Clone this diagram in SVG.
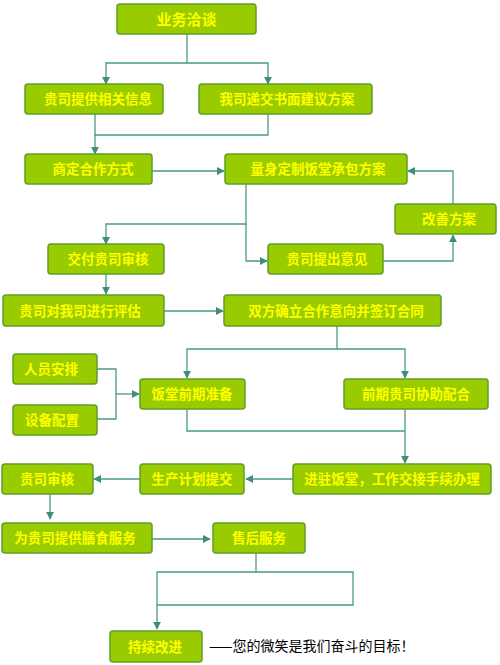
<svg xmlns="http://www.w3.org/2000/svg" width="500" height="665" viewBox="0 0 500 665">
<style>
.box rect{fill:#99cc00;stroke:#5e9e2a;stroke-width:1.5}
.box text{fill:#ffff00;font-family:"Noto Sans CJK SC","Noto Sans CJK JP",sans-serif;font-size:13.5px;text-anchor:middle;font-weight:bold}
.c{fill:none;stroke:#4a9a86;stroke-width:1.3}
.note{fill:#000;font-family:"Noto Sans CJK SC",sans-serif;font-size:14px}
</style>
<defs>
<marker id="ah" viewBox="0 0 10 10" refX="9" refY="5" markerWidth="8" markerHeight="8" markerUnits="userSpaceOnUse" orient="auto">
<path d="M0,0 L10,5 L0,10 z" fill="#3e8f78"/>
</marker>
</defs>
<g id="connectors">
<path class="c" d="M187,34 V63 H106 V84" marker-end="url(#ah)"/>
<path class="c" d="M187,63 H268 V84"  marker-end="url(#ah)"/>
<path class="c" d="M95,114 V135 H268 V114"/>
<path class="c" d="M95,135 V154" marker-end="url(#ah)"/>
<path class="c" d="M152,171 H224" marker-end="url(#ah)"/>
<path class="c" d="M453,204 V171 H408" marker-end="url(#ah)"/>
<path class="c" d="M246,184 V224 H106 V244" marker-end="url(#ah)"/>
<path class="c" d="M246,224 V261 H267" marker-end="url(#ah)"/>
<path class="c" d="M383,261 H453 V235" marker-end="url(#ah)"/>
<path class="c" d="M106,274 V294" marker-end="url(#ah)"/>
<path class="c" d="M164,311 H223" marker-end="url(#ah)"/>
<path class="c" d="M337,326 V349 H187 V378" marker-end="url(#ah)"/>
<path class="c" d="M337,349 H405 V378" marker-end="url(#ah)"/>
<path class="c" d="M97,369 H116 V419 H97"/>
<path class="c" d="M116,394 H139" marker-end="url(#ah)"/>
<path class="c" d="M187,409 V431 H405"/>
<path class="c" d="M405,409 V463" marker-end="url(#ah)"/>
<path class="c" d="M293,479 H246" marker-end="url(#ah)"/>
<path class="c" d="M140,479 H94" marker-end="url(#ah)"/>
<path class="c" d="M50,494 V519" marker-end="url(#ah)"/>
<path class="c" d="M152,539 H210" marker-end="url(#ah)"/>
<path class="c" d="M256,553 V572 H353 V605 H157"/>
<path class="c" d="M256,572 H157 V629" marker-end="url(#ah)"/>
</g>
<g id="n1" class="box"><rect x="117" y="4" width="139" height="30" rx="3"/><text x="186.5" y="24.5" style="font-size:15px">业务洽谈</text></g>
<g id="n2" class="box"><rect x="25" y="84" width="138" height="30" rx="3"/><text x="98" y="104">贵司提供相关信息</text></g>
<g id="n3" class="box"><rect x="199" y="84" width="173" height="30" rx="3"/><text x="287" y="104">我司递交书面建议方案</text></g>
<g id="n4" class="box"><rect x="25" y="154" width="127" height="30" rx="3"/><text x="93" y="174">商定合作方式</text></g>
<g id="n5" class="box"><rect x="225" y="154" width="182" height="30" rx="3"/><text x="318" y="174">量身定制饭堂承包方案</text></g>
<g id="n6" class="box"><rect x="395" y="204" width="101" height="30" rx="3"/><text x="449" y="224">改善方案</text></g>
<g id="n7" class="box"><rect x="48" y="244" width="116" height="30" rx="3"/><text x="108" y="264">交付贵司审核</text></g>
<g id="n8" class="box"><rect x="268" y="244" width="115" height="30" rx="3"/><text x="327" y="264">贵司提出意见</text></g>
<g id="n9" class="box"><rect x="3" y="295" width="161" height="31" rx="3"/><text x="80" y="315.5">贵司对我司进行评估</text></g>
<g id="n10" class="box"><rect x="224" y="295" width="217" height="31" rx="3"/><text x="336" y="315.5">双方确立合作意向并签订合同</text></g>
<g id="n11" class="box"><rect x="13" y="354" width="84" height="30" rx="3"/><text x="51" y="374">人员安排</text></g>
<g id="n12" class="box"><rect x="13" y="405" width="84" height="30" rx="3"/><text x="52" y="425">设备配置</text></g>
<g id="n13" class="box"><rect x="140" y="379" width="105" height="30" rx="3"/><text x="192" y="399">饭堂前期准备</text></g>
<g id="n14" class="box"><rect x="344" y="379" width="144" height="30" rx="3"/><text x="416" y="399">前期贵司协助配合</text></g>
<g id="n15" class="box"><rect x="293" y="464" width="198" height="30" rx="3"/><text x="392" y="484">进驻饭堂，工作交接手续办理</text></g>
<g id="n16" class="box"><rect x="140" y="464" width="104" height="30" rx="3"/><text x="192" y="484">生产计划提交</text></g>
<g id="n17" class="box"><rect x="2" y="464" width="91" height="30" rx="3"/><text x="47" y="484">贵司审核</text></g>
<g id="n18" class="box"><rect x="2" y="523" width="150" height="30" rx="3"/><text x="75" y="543">为贵司提供膳食服务</text></g>
<g id="n19" class="box"><rect x="213" y="523" width="92" height="30" rx="3"/><text x="259" y="543">售后服务</text></g>
<g id="n20" class="box"><rect x="110" y="631" width="92" height="31" rx="3"/><text x="155" y="651.5">持续改进</text></g>
<text class="note" x="209" y="651">——您的微笑是我们奋斗的目标！</text>
</svg>
